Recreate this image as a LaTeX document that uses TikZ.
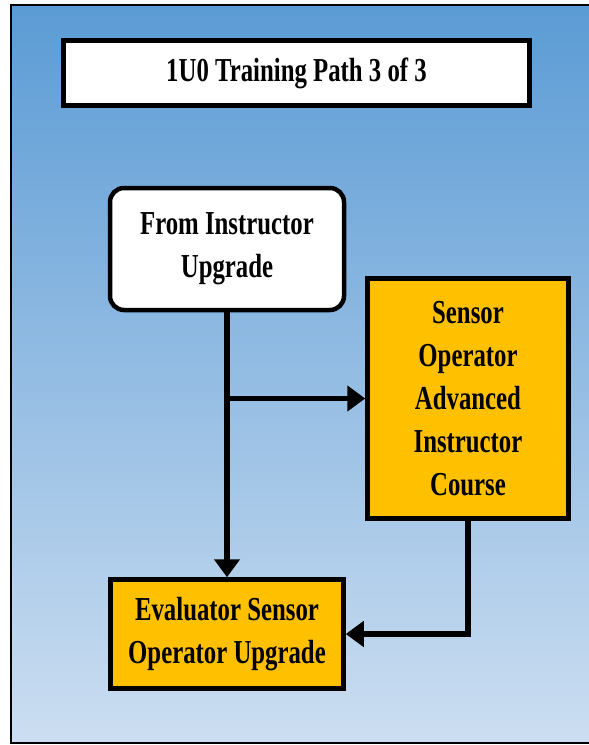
\documentclass[tikz,border=0pt]{standalone}
\usepackage{fontspec}
\setmainfont{Liberation Serif}[FakeStretch=0.74,BoldFeatures={FakeStretch=0.74}]
\usetikzlibrary{arrows.meta,calc}
\definecolor{bgtop}{RGB}{91,155,213}
\definecolor{bgbot}{RGB}{204,222,241}
\definecolor{gold}{RGB}{255,192,0}
\begin{document}
\begin{tikzpicture}[x=1pt,y=-1pt,
  txt/.style={font=\fontsize{33.5}{43}\selectfont\bfseries, align=center, text=black},
  whitebox/.style={txt, draw=black, fill=white, line width=4.5pt, inner sep=0pt},
  goldbox/.style={txt, draw=black, fill=gold, line width=4.5pt, inner sep=0pt},
  conn/.style={draw=black, line width=5.5pt},
  tip/.style={-{Triangle[length=18pt,width=25pt]}}
]
\useasboundingbox (0,0) rectangle (589,745);
\clip (0,0) rectangle (589,745);
\fill[white] (0,0) rectangle (589,745);
\shade[top color=bgtop, bottom color=bgbot] (11,5) rectangle (595,743);
\draw[black, line width=1.5pt] (11,5) rectangle (595,743);

\node[whitebox, minimum width=466pt, minimum height=65pt] (title) at (296.5,73) {1U0 Training Path 3 of 3};
\node[whitebox, rounded corners=14pt, minimum width=234pt, minimum height=122pt] (from) at (227,249) {From Instructor\\Upgrade};
\node[goldbox, minimum width=201pt, minimum height=240pt] (sensor) at (468,398.5) {Sensor\\Operator\\Advanced\\Instructor\\Course};
\node[goldbox, minimum width=233pt, minimum height=109pt] (eval) at (227,634) {Evaluator Sensor\\Operator Upgrade};

\coordinate (split) at (from.south |- sensor.west);
\draw[conn, tip] (from.south) -- (eval.north);
\draw[conn, tip] (split) -- (sensor.west);
\draw[conn, tip] (sensor.south) |- (eval.east);
\end{tikzpicture}
\end{document}
